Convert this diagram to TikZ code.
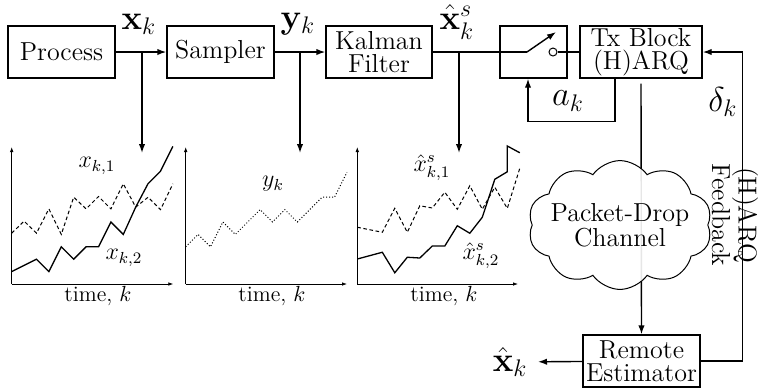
\documentclass[tikz,border=0pt]{standalone}
\usepackage{amsmath,amssymb}
\usetikzlibrary{arrows.meta,calc,shapes.symbols,positioning}
\tikzset {
  >={Latex[length=4.5pt,width=3.2pt]},
  every node/.style={font=\fontsize{13}{11.5}\selectfont},
  blk/.style={draw,line width=0.7pt,inner sep=1pt,align=center,minimum height=26pt},
  sig/.style={font=\fontsize{17}{19}\selectfont},
  fbk/.style={font=\fontsize{17}{20}\selectfont},
  axis/.style={line width=0.4pt,-{Latex[length=2.5pt,width=1.8pt]}},
  tlab/.style={font=\fontsize{11}{13}\selectfont},
  clab/.style={font=\fontsize{12}{14}\selectfont},
  solid curve/.style={line width=0.65pt},
  dash curve/.style={line width=0.5pt,dash pattern=on 1.8pt off 1.3pt},
  dot curve/.style={line width=0.5pt,densely dotted},
}

\begin{document}
\begin{tikzpicture}[x=0.5pt,y=-0.5pt,line width=0.7pt]
      \useasboundingbox (0,0) rectangle (761,388);

      \node[blk,minimum width=53.5pt] (proc) at (61.5,52) {Process};
      \node[blk,minimum width=53.5pt] (samp) at (220.5,52) {Sampler};
      \node[blk,minimum width=53pt] (kf) at (379,52) {Kalman\\Filter};
      \node[blk,minimum width=33.5pt] (sw) at (533.5,52) {};
      \node[blk,minimum width=61pt] (tx) at (641,52) {Tx Block\\(H)ARQ};
      \node[blk,minimum width=58.5pt] (est) at (641.5,361) {Remote\\Estimator};

      \draw[->] (proc) -- (samp);
      \draw[->] (samp) -- (kf);

      % switch
      \coordinate (pivot) at (527,52);
      \coordinate (lever) at (556,32);
      \draw (kf.east) -- (pivot);
      \draw[->] (pivot) -- (lever);
      \node[circle,draw,line width=0.5pt,inner sep=0pt,minimum size=4pt] (cont) at (553,52) {};
      \draw (cont) -- (tx);

      \node[sig] (xk) at (139,24) {$\mathbf{x}_k$};
      \node[sig] (yk) at (298,24) {$\mathbf{y}_k$};
      \node[sig] (xs) at (457,22) {$\hat{\mathbf{x}}_k^s$};

      \coordinate (tapa) at (142,52);
      \coordinate (tapb) at (300,52);
      \coordinate (tapc) at (459,52);
      \foreach \t in {tapa,tapb,tapc}
        \draw[->] (\t) -- ($(\t)+(0,101)$);

      \draw[->] ([xshift=-13pt]tx.south) -- ++(0,43) -| ([xshift=-2.75pt]sw.south);
      \node[fbk] (ak) at (568,101) {$a_k$};

      \draw[->] ([yshift=-2.5pt]tx.south) -- (est.north);
      \node[cloud,draw,line width=0.5pt,cloud puffs=10,cloud puff arc=110,aspect=1.5,
        minimum width=92pt,minimum height=62pt,inner xsep=-6pt,inner ysep=-8pt,align=center,
        fill=white,fill opacity=0.9,text opacity=1] (ch) at (620,225) {Packet-Drop\\Channel};

      \draw[->] (est.east) -- ++(42,0) |- (tx.east);
      \node[fbk] (dk) at (723,102) {$\delta_k$};
      \node[rotate=-90,align=center] (fbl) at (735,215) {(H)ARQ\\Feedback};

      \node[sig,anchor=east,inner xsep=5pt] (xe) at (538,362) {$\hat{\mathbf{x}}_k$};
      \draw[->] (est) -- (xe);

      % plots
      \foreach \ox/\ex in {11.7/173.3,185.7/347,357.3/518} {
        \draw[axis] (\ox,284) -- (\ox,147);
        \draw[axis] (\ox,284) -- (\ex,284);
      }
      \node[tlab] (ta) at (98,296) {time, $k$};
      \node[tlab] (tb) at (272,296) {time, $k$};
      \node[tlab] (tc) at (444,296) {time, $k$};

      \begin{scope}[shift={(11.7,284)},x=6.2pt,y=6.2pt]
        \draw[solid curve] plot coordinates {(0,1) (2,2) (3,1) (4,3) (5,2) (6,3) (7,3)
          (8,5) (9,4) (10,6.2) (11,8.1) (12,9.1) (13,11.1)};
        \draw[dash curve] plot coordinates {(0,4.1) (1,5.07) (2,4.1) (3,6.06) (4,4) (5,7)
          (6,6.06) (7,7.06) (8,6.06) (9,8.08) (10,6.2) (11,7) (12,6) (13,8.08)};
      \end{scope}
      \node[clab] (la) at (97,166) {$x_{k,1}$};
      \node[clab] (lb) at (124,258) {$x_{k,2}$};

      \begin{scope}[shift={(185.7,284)},x=6.2pt,y=6.2pt]
        \draw[dot curve] plot coordinates {(0,3) (1,4) (2,3) (3,5) (4,4) (6,6) (7,5)
          (8,6) (9,5) (11,7) (12,7) (13,9)};
      \end{scope}
      \node[clab] (lc) at (273,184) {$y_k$};

      \begin{scope}[shift={(357.3,284)},x=6.25pt,y=6.25pt]
        \draw[solid curve] plot coordinates {(0,2) (2,2.54) (3,0.9) (4,2.14) (5,2.08)
          (6,3.04) (7,3.04) (8,4.66) (9,4.06) (10,5.34) (11,8.38) (12,8.98) (12,11.04) (13,10.5)};
        \draw[dash curve] plot coordinates {(0,4.54) (2,4.14) (3,6.06) (4,4.14) (5,6.26)
          (6,6.08) (7,7.34) (8,5.98) (9,7.86) (10,5.98) (11,7.74) (12,6.05) (13,9.26)};
      \end{scope}
      \node[clab] (ld) at (432,168) {$\hat{x}^s_{k,1}$};
      \node[clab] (le) at (481,256) {$\hat{x}^s_{k,2}$};
\end{tikzpicture}
\end{document}
